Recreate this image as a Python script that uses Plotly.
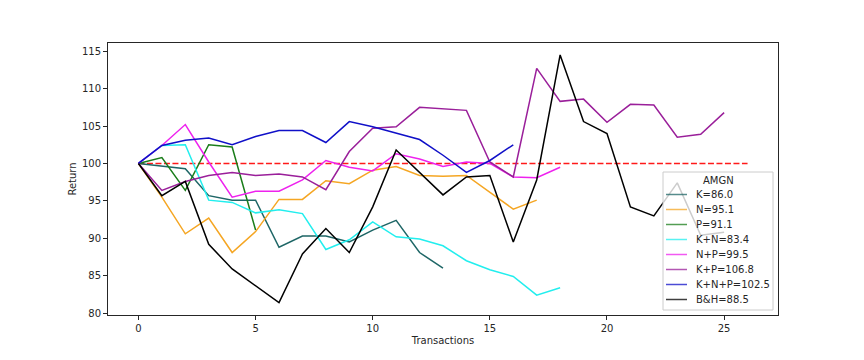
import plotly.graph_objects as go

x_ticks = [0, 5, 10, 15, 20, 25]
y_ticks = [80, 85, 90, 95, 100, 105, 110, 115]

K = [100, 99.7, 99.3, 95.7, 95.1, 95.1, 88.8, 90.3, 90.3, 89.5, 91.1, 92.4, 88.1, 86.0]
N = [100, 95.5, 90.6, 92.7, 88.1, 90.9, 95.2, 95.2, 97.7, 97.3, 99.1, 99.6, 98.4, 98.3, 98.4, 96.2, 93.9, 95.1]
P = [100, 100.8, 96.4, 102.5, 102.2, 91.1]
KN = [100, 102.4, 102.5, 95.1, 94.8, 93.4, 93.8, 93.3, 88.5, 89.8, 92.2, 90.2, 89.9, 89.0, 87.0, 85.8, 84.9, 82.4, 83.4]
NP = [100, 102.4, 105.2, 100.2, 95.5, 96.3, 96.3, 97.8, 100.4, 99.5, 99.0, 101.3, 100.6, 99.6, 100.2, 100.0, 98.2, 98.1, 99.5]
KP = [100, 96.4, 97.6, 98.4, 98.8, 98.4, 98.6, 98.2, 96.5, 101.6, 104.7, 104.9, 107.5, 107.3, 107.1, 100.2, 98.2, 112.7, 108.3, 108.6, 105.5, 107.9, 107.8, 103.5, 103.9, 106.8]
KNP = [100, 102.4, 103.1, 103.4, 102.5, 103.6, 104.4, 104.4, 102.8, 105.6, 104.9, 104.1, 103.2, 101.1, 98.8, 100.4, 102.5]
BH = [100, 95.7, 97.6, 89.2, 85.9, 83.6, 81.4, 87.9, 91.3, 88.1, 94.2, 101.8, 98.8, 95.8, 98.2, 98.4, 89.5, 97.8, 114.5, 105.6, 104.0, 94.2, 93.0, 97.4, 90.4, 90.8]
baseline_x = [0, 26]
baseline_y = [100, 100]
legend_title = "AMGN"

series = [
    ("K=86.0", K, "#1e6666"),
    ("N=95.1", N, "#f5a623"),
    ("P=91.1", P, "#1a7d1a"),
    ("K+N=83.4", KN, "#22eeee"),
    ("N+P=99.5", NP, "#ee22ee"),
    ("K+P=106.8", KP, "#9a1f9a"),
    ("K+N+P=102.5", KNP, "#1010c8"),
    ("B&H=88.5", BH, "#000000"),
]

W, H = 864, 360
OFF = 8  # page body margin
L, R, T, B = 108, 778, 43, 315  # target plot box in screenshot pixels

def px(xp):
    return (xp - L) / (R - L)

def py(yp):
    return (B - yp) / (B - T)

fig = go.Figure()
fig.add_trace(go.Scatter(x=baseline_x, y=baseline_y, mode="lines", showlegend=False,
                         line=dict(color="#ff1a1a", width=1.6, dash="6px,2.5px")))
for name, vals, col in series:
    fig.add_trace(go.Scatter(x=list(range(len(vals))), y=vals, mode="lines", name=name,
                             showlegend=False, line=dict(color=col, width=1.5)))

# manual legend, matplotlib style
shapes = [dict(type="rect", xref="paper", yref="paper", layer="above",
               x0=px(663), x1=px(773), y0=py(310), y1=py(172),
               fillcolor="rgba(255,255,255,0.8)", line=dict(color="#cccccc", width=1))]
annotations = [dict(xref="paper", yref="paper", x=px(718), y=py(180), text=legend_title,
                    showarrow=False, xanchor="center", yanchor="middle",
                    font=dict(family="DejaVu Sans", size=10, color="#262626"))]
for i, (name, vals, col) in enumerate(series):
    yy = 194.5 + 15.0 * i
    shapes.append(dict(type="line", xref="paper", yref="paper", layer="above",
                       x0=px(666), x1=px(687), y0=py(yy), y1=py(yy),
                       line=dict(color=col, width=1.5), opacity=0.75))
    annotations.append(dict(xref="paper", yref="paper", x=px(694), y=py(yy), text=name,
                            showarrow=False, xanchor="left", yanchor="middle",
                            font=dict(family="DejaVu Sans", size=10, color="#262626")))

axis_common = dict(showline=True, linecolor="#262626", linewidth=1, mirror=True,
                   ticks="outside", ticklen=4, tickcolor="#262626", tickwidth=1,
                   showgrid=False, zeroline=False, automargin=False,
                   tickfont=dict(family="DejaVu Sans", size=10, color="#262626"))

fig.update_layout(
    width=W, height=H,
    margin=dict(l=L - OFF, r=W - R + OFF, t=T - OFF, b=H - B + OFF),
    paper_bgcolor="white", plot_bgcolor="white",
    font=dict(family="DejaVu Sans", size=10, color="#262626"),
    xaxis=dict(range=[-1.3, 27.3], tickvals=x_ticks,
               title=dict(text="Transactions", standoff=3, font=dict(size=10)), **axis_common),
    yaxis=dict(range=[79.75, 116.1], tickvals=y_ticks,
               title=dict(text="Return", standoff=3, font=dict(size=10)), **axis_common),
    showlegend=False,
    shapes=shapes,
    annotations=annotations,
)

fig.write_html("out.html")
